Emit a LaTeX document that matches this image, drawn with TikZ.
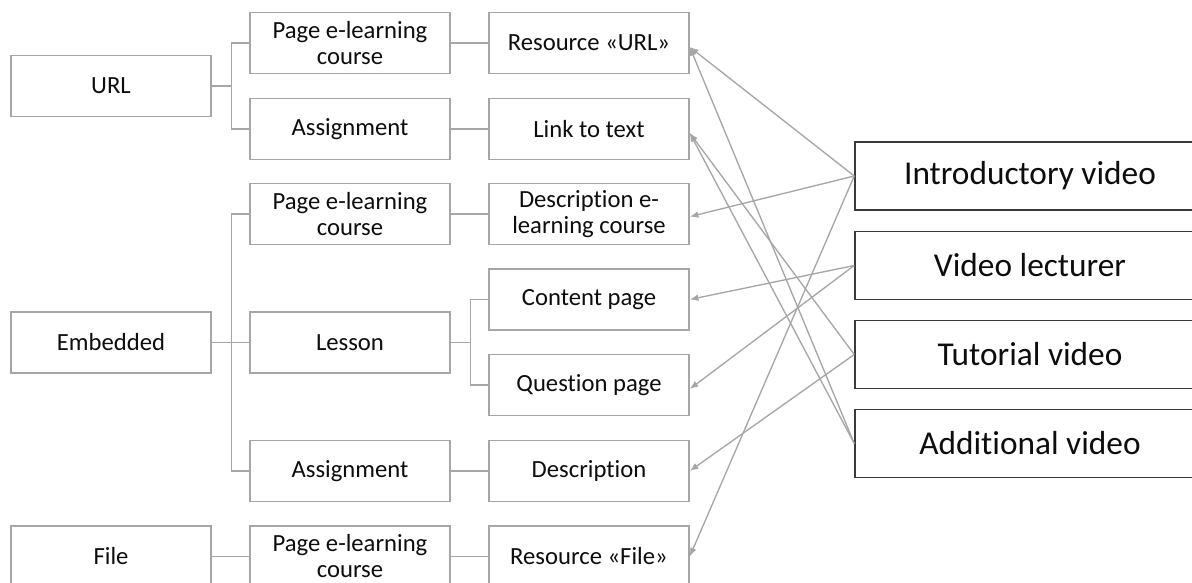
\documentclass[tikz,border=0pt]{standalone}
\usepackage{fontspec}
\setmainfont{Carlito}[Ligatures=NoCommon]
\usetikzlibrary{arrows.meta,calc}
\definecolor{boxgray}{HTML}{A6A6A6}
\definecolor{arrgray}{HTML}{A6A6A6}
\definecolor{darkline}{HTML}{3A3A3A}
\definecolor{txt}{HTML}{0D0D0D}
\begin{document}
\begin{tikzpicture}[x=0.75pt,y=-0.75pt,
  lbox/.style={draw=boxgray,line width=1.1pt,minimum width=150pt,minimum height=45.5pt,
    align=center,font=\fontsize{18.5}{19.5}\selectfont,text=txt,inner sep=0pt},
  rbox/.style={draw=darkline,line width=1.1pt,minimum width=262.5pt,minimum height=51pt,
    align=center,font=\fontsize{25}{28}\selectfont,text=txt,inner sep=0pt},
  tree/.style={draw=boxgray,line width=1.1pt},
  conn/.style={draw=arrgray,line width=1pt,-{Latex[length=6.5pt,width=5pt]}}]
\useasboundingbox (0,0) rectangle (1192,582);
\fill[white] (0,0) rectangle (1192,582);
% left column
\node[lbox] (url) at (111,86) {URL};
\node[lbox] (emb) at (111,342.5) {Embedded};
\node[lbox] (file) at (111,556.5) {File};
% second column
\node[lbox] (pg1) at (350,43) {Page e-learning\\course};
\node[lbox] (as1) at (350,129) {Assignment};
\node[lbox] (pg2) at (350,214) {Page e-learning\\course};
\node[lbox] (les) at (350,342.5) {Lesson};
\node[lbox] (as2) at (350,471) {Assignment};
\node[lbox] (pg3) at (350,556.5) {Page e-learning\\course};
% third column
\node[lbox] (rurl) at (589,43) {Resource «URL»};
\node[lbox] (link) at (589,129) {Link to text};
\node[lbox] (desc1) at (589,214) {Description e-\\learning course};
\node[lbox] (cont) at (589,299.5) {Content page};
\node[lbox] (ques) at (589,385) {Question page};
\node[lbox] (desc2) at (589,471) {Description};
\node[lbox] (rfile) at (589,556.5) {Resource «File»};
% right column
\node[rbox] (intro) at (1030,176) {Introductory video};
\node[rbox] (lect) at (1030,265.5) {Video lecturer};
\node[rbox] (tut) at (1030,354.5) {Tutorial video};
\node[rbox] (add) at (1030,443.5) {Additional video};
% tree connectors
\draw[tree] (url.east) -- ++(20,0) |- (pg1.west);
\draw[tree] (url.east) ++(20,0) |- (as1.west);
\draw[tree] (emb.east) -- (les.west);
\draw[tree] (emb.east) ++(20,0) |- (pg2.west);
\draw[tree] (emb.east) ++(20,0) |- (as2.west);
\draw[tree] (file.east) -- (pg3.west);
\draw[tree] (pg1.east) -- (rurl.west);
\draw[tree] (as1.east) -- (link.west);
\draw[tree] (pg2.east) -- (desc1.west);
\draw[tree] (as2.east) -- (desc2.west);
\draw[tree] (pg3.east) -- (rfile.west);
\draw[tree] (les.east) -- ++(19.5,0) |- (cont.west);
\draw[tree] (les.east) ++(19.5,0) |- (ques.west);
% video connectors
\draw[conn] (intro.west) -- ([yshift=-3pt]rurl.east);
\draw[conn] (intro.west) -- ([yshift=-2pt]desc1.east);
\draw[conn] (intro.west) -- (rfile.east);
\draw[conn] (lect.west) -- (cont.east);
\draw[conn] (lect.west) -- ([yshift=-3pt]ques.east);
\draw[conn] (tut.west) -- ([yshift=-3pt]link.east);
\draw[conn] (tut.west) -- (desc2.east);
\draw[conn] (add.west) -- ([yshift=-3pt]rurl.east);
\draw[conn] (add.west) -- ([yshift=-3pt]link.east);
\end{tikzpicture}
\end{document}
